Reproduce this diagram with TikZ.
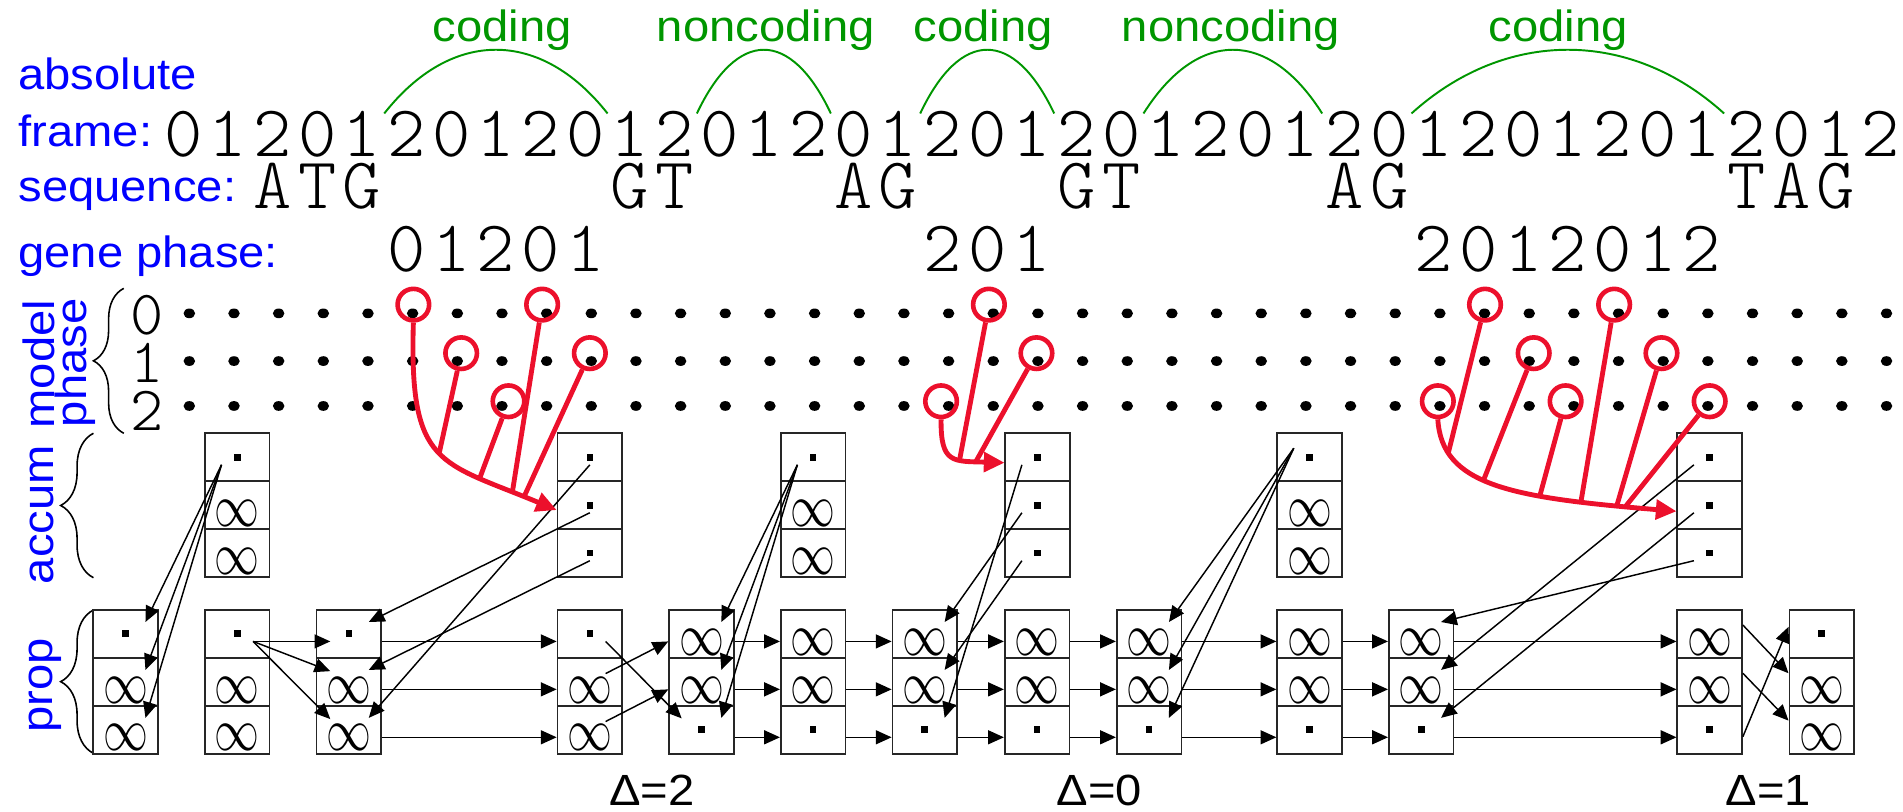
\documentclass[tikz,border=0pt]{standalone}
\usepackage{graphicx}
\usepackage{fontspec}
\setmainfont{Liberation Sans}[FakeStretch=1.08]
\newfontfamily\monolight{Latin Modern Mono Light}
\usetikzlibrary{arrows.meta,calc,decorations.pathreplacing,shapes.geometric}

\definecolor{lblblue}{RGB}{0,0,255}
\definecolor{regiongreen}{RGB}{0,150,0}
\definecolor{pathred}{RGB}{236,16,44}

% cell contents: a small filled square and an infinity sign
\newcommand\cellsq{\raisebox{-2.75pt}[0pt][0pt]{\rule{5.5pt}{5.5pt}}}
\newcommand\cellinf{\raisebox{-17.5pt}[0pt][0pt]{\scalebox{3.7}[5.0]{$\infty$}}}

\begin{document}
\begin{tikzpicture}[x=1pt,y=-1pt,
  lbl/.style={text=lblblue,font=\fontsize{36}{36}\selectfont,inner sep=0pt},
  region/.style={text=regiongreen,font=\fontsize{36}{36}\selectfont,inner sep=0pt,anchor=base},
  seqchar/.style={font=\monolight\fontsize{60}{60}\selectfont,inner sep=0pt,anchor=base},
  phasechar/.style={font=\monolight\fontsize{52}{52}\selectfont,inner sep=0pt},
  dot/.style={ellipse,fill=black,inner sep=0pt,minimum width=9.5pt,minimum height=8pt},
  ring/.style={circle,draw=pathred,line width=3.8pt,inner sep=0pt,minimum size=26pt},
  cell/.style={draw=black!85,line width=1.4pt,minimum width=53.3pt,minimum height=39.5pt,inner sep=0pt},
  link/.style={line width=1.2pt,-{Triangle[length=13pt,width=11.5pt]}},
  feed/.style={draw=pathred,line width=4pt},
  feedarrow/.style={feed,-{Triangle[length=17pt,width=16pt]}},
  hump/.style={draw=regiongreen,line width=1.6pt},
  curly/.style={decorate,decoration={brace,amplitude=#1},line width=1.3pt},
]
\useasboundingbox (0,0) rectangle (1568,669);

% ---- row labels ----
\node[lbl,anchor=base west] (labs) at (15,74) {absolute};
\node[lbl,anchor=base west] (lfr) at (15,121) {frame:};
\node[lbl,anchor=base west] (lsq) at (15,166) {sequence:};
\node[lbl,anchor=base west] (lgp) at (15,220) {gene phase:};
\node[lbl,rotate=90,anchor=base] (lmo) at (45,300) {model};
\node[lbl,rotate=90,anchor=base] (lph) at (71,299) {phase};
\node[lbl,rotate=90,anchor=base] (lac) at (44,424) {accum};
\node[lbl,rotate=90,anchor=base] (lpr) at (43,565) {prop};

% ---- absolute frame ----
\foreach \i in {0,...,38}{
  \pgfmathtruncatemacro\fd{mod(\i,3)}
  \node[seqchar] (fr\i) at ({151+36.8*\i},129) {\fd};
}
% ---- sequence signals ----
\foreach \i/\ch in {2/A,3/T,4/G,10/G,11/T,15/A,16/G,20/G,21/T,26/A,27/G,35/T,36/A,37/G}
  \node[seqchar] (sq\i) at ({151+36.8*\i},172) {\ch};
% ---- gene phase ----
\foreach \i/\ch in {5/0,6/1,7/2,8/0,9/1,17/2,18/0,19/1,28/2,29/0,30/1,31/2,32/0,33/1,34/2}
  \node[seqchar] (gp\i) at ({151+36.8*\i},224) {\ch};

% ---- coding / noncoding regions ----
\foreach \k/\ks/\ke in {1/4.5/9.5,2/11.5/14.5,3/16.5/19.5,4/21.5/25.5,5/27.5/34.5}{
  \coordinate (h\k-s) at ({151+36.8*\ks},93.5);
  \coordinate (h\k-e) at ({151+36.8*\ke},93.5);
  \pgfmathsetmacro\hw{11.04*(\ke-\ks)}
  \draw[hump] (h\k-s) .. controls +(\hw,-70) and +(-\hw,-70) .. (h\k-e);
}
\node[region] (t1) at (414,34) {coding};
\node[region] (t2) at (631,34) {noncoding};
\node[region] (t3) at (810,34) {coding};
\node[region] (t4) at (1014,34) {noncoding};
\node[region] (t5) at (1284,34) {coding};

% ---- model phase grid ----
\foreach \r/\yy in {0/258.2,1/297.5,2/334.5}
  \foreach \i in {0,...,38}
    \node[dot] (m\r-\i) at ({156+36.8*\i},\yy) {};
\node[phasechar] (mp0) at (121,260) {0};
\node[phasechar] (mp1) at (121,299) {1};
\node[phasechar] (mp2) at (121,338.5) {2};

% ---- braces ----
\draw[curly=25pt] (102,357) -- (102,237.6);
\draw[curly=27pt] (77,476) -- (77,357);
\draw[curly=27pt] (77,620.7) -- (77,502.6);

% ---- accum columns ----
\foreach \n/\x/\ca/\cb/\cc in {1/195.5/\cellsq/\cellinf/\cellinf,
    2/486/\cellsq/\cellsq/\cellsq,
    3/670/\cellsq/\cellinf/\cellinf,
    4/855/\cellsq/\cellsq/\cellsq,
    5/1079/\cellsq/\cellinf/\cellinf,
    6/1408.7/\cellsq/\cellsq/\cellsq}{
  \node[cell] (a\n-0) at (\x,376.75) {\ca};
  \node[cell] (a\n-1) at (\x,416.25) {\cb};
  \node[cell] (a\n-2) at (\x,455.75) {\cc};
}
% ---- prop columns ----
\foreach \n/\x/\ca/\cb/\cc in {1/103.5/\cellsq/\cellinf/\cellinf,
    2/195.5/\cellsq/\cellinf/\cellinf,
    3/287.5/\cellsq/\cellinf/\cellinf,
    4/486/\cellsq/\cellinf/\cellinf,
    5/578/\cellinf/\cellinf/\cellsq,
    6/670/\cellinf/\cellinf/\cellsq,
    7/762/\cellinf/\cellinf/\cellsq,
    8/854.5/\cellinf/\cellinf/\cellsq,
    9/946.8/\cellinf/\cellinf/\cellsq,
    10/1079/\cellinf/\cellinf/\cellsq,
    11/1171/\cellinf/\cellinf/\cellsq,
    12/1408.7/\cellinf/\cellinf/\cellsq,
    13/1501/\cellsq/\cellinf/\cellinf}{
  \node[cell] (p\n-0) at (\x,522.25) {\ca};
  \node[cell] (p\n-1) at (\x,561.75) {\cb};
  \node[cell] (p\n-2) at (\x,601.25) {\cc};
}

% ---- straight propagation ----
\foreach \u/\v in {3/4,5/6,6/7,7/8,8/9,9/10,10/11,11/12}
  \foreach \r in {0,1,2}
    \draw[link] ($(p\u-\r.east)+(0,6.25)$) -- ($(p\v-\r.west)+(0,6.25)$);

% start state fans out
\draw[link] ($(p2-0.center)+(13,6.25)$) -- ($(p3-0.west)+(12,6.25)$);
\draw[link] ($(p2-0.center)+(13,6.25)$) -- ($(p3-1.west)+(12,-8.75)$);
\draw[link] ($(p2-0.center)+(13,6.25)$) -- ($(p3-2.west)+(12,-8.75)$);

% accumulator row 0 into all prop rows
\foreach \s/\t in {1/1,3/5}
  \foreach \r in {0,1,2}
    \draw[link] ($(a\s-0.center)+(-13,6.25)$) -- ($(p\t-\r.east)+(-11,-9.75)$);
\foreach \r in {0,1,2}
  \draw[link] ($(a5-0.center)+(-13,-7.4)$) -- ($(p9-\r.east)+(-11,-9.75)$);

% accumulators with phase shift
\foreach \r/\q in {0/2,1/0,2/1}{
  \draw[link] ($(a2-\r.center)+(0,6.25)$) -- ($(p3-\q.east)+(-11,-9.75)$);
  \draw[link] ($(a4-\r.center)+(-13,6.25)$) -- ($(p7-\q.east)+(-11,-9.75)$);
}
\foreach \r/\q in {0/1,1/2,2/0}
  \draw[link] ($(a6-\r.center)+(-13,6.25)$) -- ($(p11-\q.east)+(-11,-9.75)$);

% phase shift Delta=2
\draw[link] ($(p4-0.center)+(13,6.25)$) -- ($(p5-2.west)+(11,-9.35)$);
\draw[link] ($(p4-1.center)+(13,-6.75)$) -- ($(p5-0.west)+(0,6.25)$);
\draw[link] ($(p4-2.center)+(13,-6.75)$) -- ($(p5-1.west)+(0,6.25)$);
% phase shift Delta=1
\draw[link] ($(p12-0.east)+(0,-7.25)$) -- ($(p13-1.west)+(0,-7)$);
\draw[link] ($(p12-1.east)+(0,-7)$) -- ($(p13-2.west)+(0,-7.5)$);
\draw[link] ($(p12-2.east)+(0,5.75)$) -- ($(p13-0.west)+(0,-5.75)$);

% ---- shift labels ----
\node[lbl,text=black,anchor=base] (d2) at (537,664) {Δ=2};
\node[lbl,text=black,anchor=base] (d0) at (906,664) {Δ=0};
\node[lbl,text=black,anchor=base] (d1) at (1457,664) {Δ=1};

% ---- coding positions collected into the accumulators ----
\foreach \i/\x/\yy in {5/340.6/251,6/380/291,7/419/330.6,8/446.7/251,9/486/291,
    17/775.4/330.6,18/814.8/251,19/854/291,
    28/1184.7/330.6,29/1223.6/251,30/1263.7/291,31/1290/330.6,32/1330/251,33/1369/291,34/1408.7/330.6}
  \node[ring] (c\i) at (\x,\yy) {};

\coordinate (e1) at ($(a2-1.west)+(0,4)$);
\path (c5.south) .. controls (337,385) and (362,380) .. (e1)
  coordinate[pos=0.5] (j6) coordinate[pos=0.73] (j7) coordinate[pos=0.86] (j8) coordinate[pos=0.9] (j9);
\draw[feedarrow] (c5.south) .. controls (337,385) and (362,380) .. (e1);
\foreach \i in {6,7,8,9} \draw[feed] (c\i) -- (j\i);

\coordinate (e2) at ($(a4-0.west)+(0,4.5)$);
\path (c17.south) .. controls (775,382) and (785,380) .. (e2)
  coordinate[pos=0.6] (j18) coordinate[pos=0.78] (j19);
\draw[feedarrow] (c17.south) .. controls (775,382) and (785,380) .. (e2);
\foreach \i in {18,19} \draw[feed] (c\i) -- (j\i);

\coordinate (e3) at ($(a6-1.west)+(0,5)$);
\path (c28.south) .. controls (1188,400) and (1245,410) .. (e3)
  coordinate[pos=0.2] (j29) coordinate[pos=0.44] (j30) coordinate[pos=0.66] (j31)
  coordinate[pos=0.78] (j32) coordinate[pos=0.87] (j33) coordinate[pos=0.89] (j34);
\draw[feedarrow] (c28.south) .. controls (1188,400) and (1245,410) .. (e3);
\foreach \i in {29,30,31,32,33,34} \draw[feed] (c\i) -- (j\i);
\end{tikzpicture}
\end{document}
